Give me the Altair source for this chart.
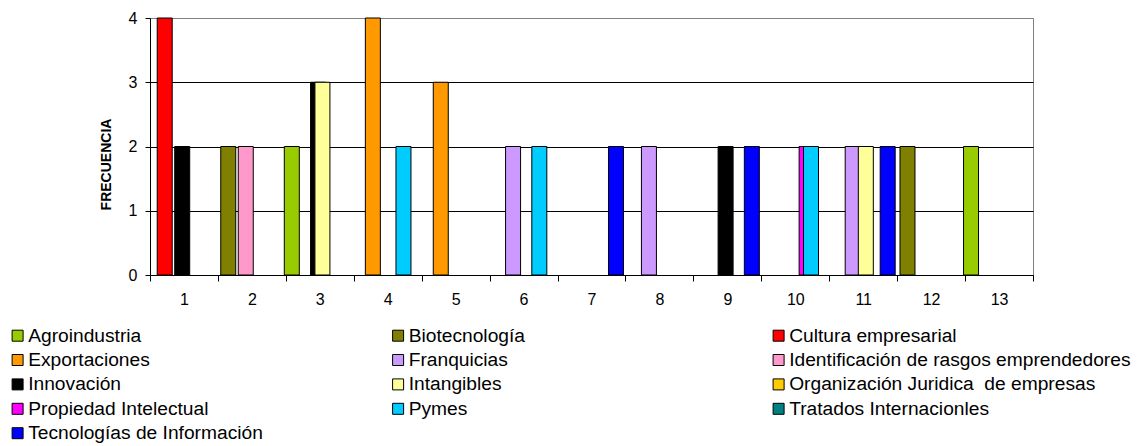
import altair as alt
import pandas as pd

categories = list(range(1, 14))
series_names = [
    "Agroindustria", "Biotecnología", "Cultura empresarial", "Exportaciones",
    "Franquicias", "Identificación de rasgos emprendedores", "Innovación",
    "Intangibles", "Organización Juridica\u00a0 de empresas", "Propiedad Intelectual",
    "\u00a0Pymes", "Tratados Internacionles", "Tecnologías de Información",
]
colors = ["#99CC00", "#808000", "#FF0000", "#FF9900", "#CC99FF", "#FF99CC", "#000000",
          "#FFFF99", "#FFCC00", "#FF00FF", "#00CCFF", "#008080", "#0000FF"]

agroindustria  = [0, 0, 2, 0, 0, 0, 0, 0, 0, 0, 0, 0, 2]
biotecnologia  = [0, 2, 0, 0, 0, 0, 0, 0, 0, 0, 0, 2, 0]
cultura        = [4, 0, 0, 0, 0, 0, 0, 0, 0, 0, 0, 0, 0]
exportaciones  = [0, 0, 0, 4, 3, 0, 0, 0, 0, 0, 0, 0, 0]
franquicias    = [0, 0, 0, 0, 0, 2, 0, 2, 0, 0, 2, 0, 0]
identificacion = [0, 2, 0, 0, 0, 0, 0, 0, 0, 0, 0, 0, 0]
innovacion     = [2, 0, 3, 0, 0, 0, 0, 0, 2, 0, 0, 0, 0]
intangibles    = [0, 0, 3, 0, 0, 0, 0, 0, 0, 0, 2, 0, 0]
organizacion   = [0, 0, 0, 0, 0, 0, 0, 0, 0, 0, 0, 0, 0]
propiedad      = [0, 0, 0, 0, 0, 0, 0, 0, 0, 2, 0, 0, 0]
pymes          = [0, 0, 0, 2, 0, 2, 0, 0, 0, 2, 0, 0, 0]
tratados       = [0, 0, 0, 0, 0, 0, 0, 0, 0, 0, 0, 0, 0]
tecnologias    = [0, 0, 0, 0, 0, 0, 2, 0, 2, 0, 2, 0, 0]

all_values = [agroindustria, biotecnologia, cultura, exportaciones, franquicias,
              identificacion, innovacion, intangibles, organizacion, propiedad,
              pymes, tratados, tecnologias]

rows = []
for k, (name, vals) in enumerate(zip(series_names, all_values)):
    for c, v in zip(categories, vals):
        rows.append({"serie": name, "k": k, "cat": c, "valor": v})
df = pd.DataFrame(rows)

FONT = "Liberation Sans"
tick_vals = []
for c in categories:
    tick_vals += [c - 0.5, c]
tick_vals.append(categories[-1] + 0.5)

chart = alt.Chart(df).transform_filter(
    "datum.valor > 0"
).transform_calculate(
    xpos="datum.cat + (datum.k - 6) * 0.0644 - 0.0258"
).mark_bar(size=15, stroke="black", strokeWidth=1).encode(
    x=alt.X("xpos:Q",
            scale=alt.Scale(domain=[0.5, 13.5], nice=False, zero=False, padding=0),
            axis=alt.Axis(values=tick_vals, title=None, grid=False,
                          labelExpr="datum.value % 1 == 0 ? datum.value : ''",
                          tickColor={"condition": {"test": "datum.value % 1 == 0", "value": "transparent"},
                                     "value": "#000000"},
                          tickSize=6, labelPadding=10, labelFontSize=16,
                          labelFont=FONT, labelColor="black", labelFlush=False,
                          labelOverlap=False, domainColor="#000000")),
    y=alt.Y("valor:Q",
            scale=alt.Scale(domain=[0, 4], nice=False),
            axis=alt.Axis(values=[0, 1, 2, 3, 4], title="FRECUENCIA",
                          titleFont=FONT, titleFontSize=14, titleFontWeight="bold",
                          titleColor="black", titleAngle=-90, titleX=-44, titleY=146,
                          titleAlign="center", titleBaseline="middle",
                          labelFont=FONT, labelFontSize=16, labelColor="black",
                          tickSize=5, tickColor="#000000", labelPadding=8,
                          domainColor="#000000",
                          gridColor={"condition": {"test": "datum.value === 4", "value": "#808080"},
                                     "value": "#000000"},
                          gridWidth=1)),
    color=alt.Color("serie:N",
                    scale=alt.Scale(domain=series_names, range=colors),
                    legend=alt.Legend(title=None, orient="none", legendX=-142, legendY=308,
                                      direction="horizontal",
                                      columns=3, gridAlign="all", columnPadding=18.5,
                                      rowPadding=4.4, padding=0,
                                      symbolType="square", symbolSize=121,
                                      symbolStrokeColor="black", symbolStrokeWidth=1,
                                      symbolOpacity=1, labelOffset=1,
                                      labelFont=FONT, labelFontSize=19.2,
                                      labelColor="black", labelLimit=600)),
).properties(
    width=883, height=257,
    autosize="none",
    padding={"left": 150, "top": 18, "right": 109, "bottom": 171},
    background="white",
).configure_view(stroke="#808080", strokeWidth=1)

chart.save("out.html", embed_options={"renderer": "svg", "actions": False})
